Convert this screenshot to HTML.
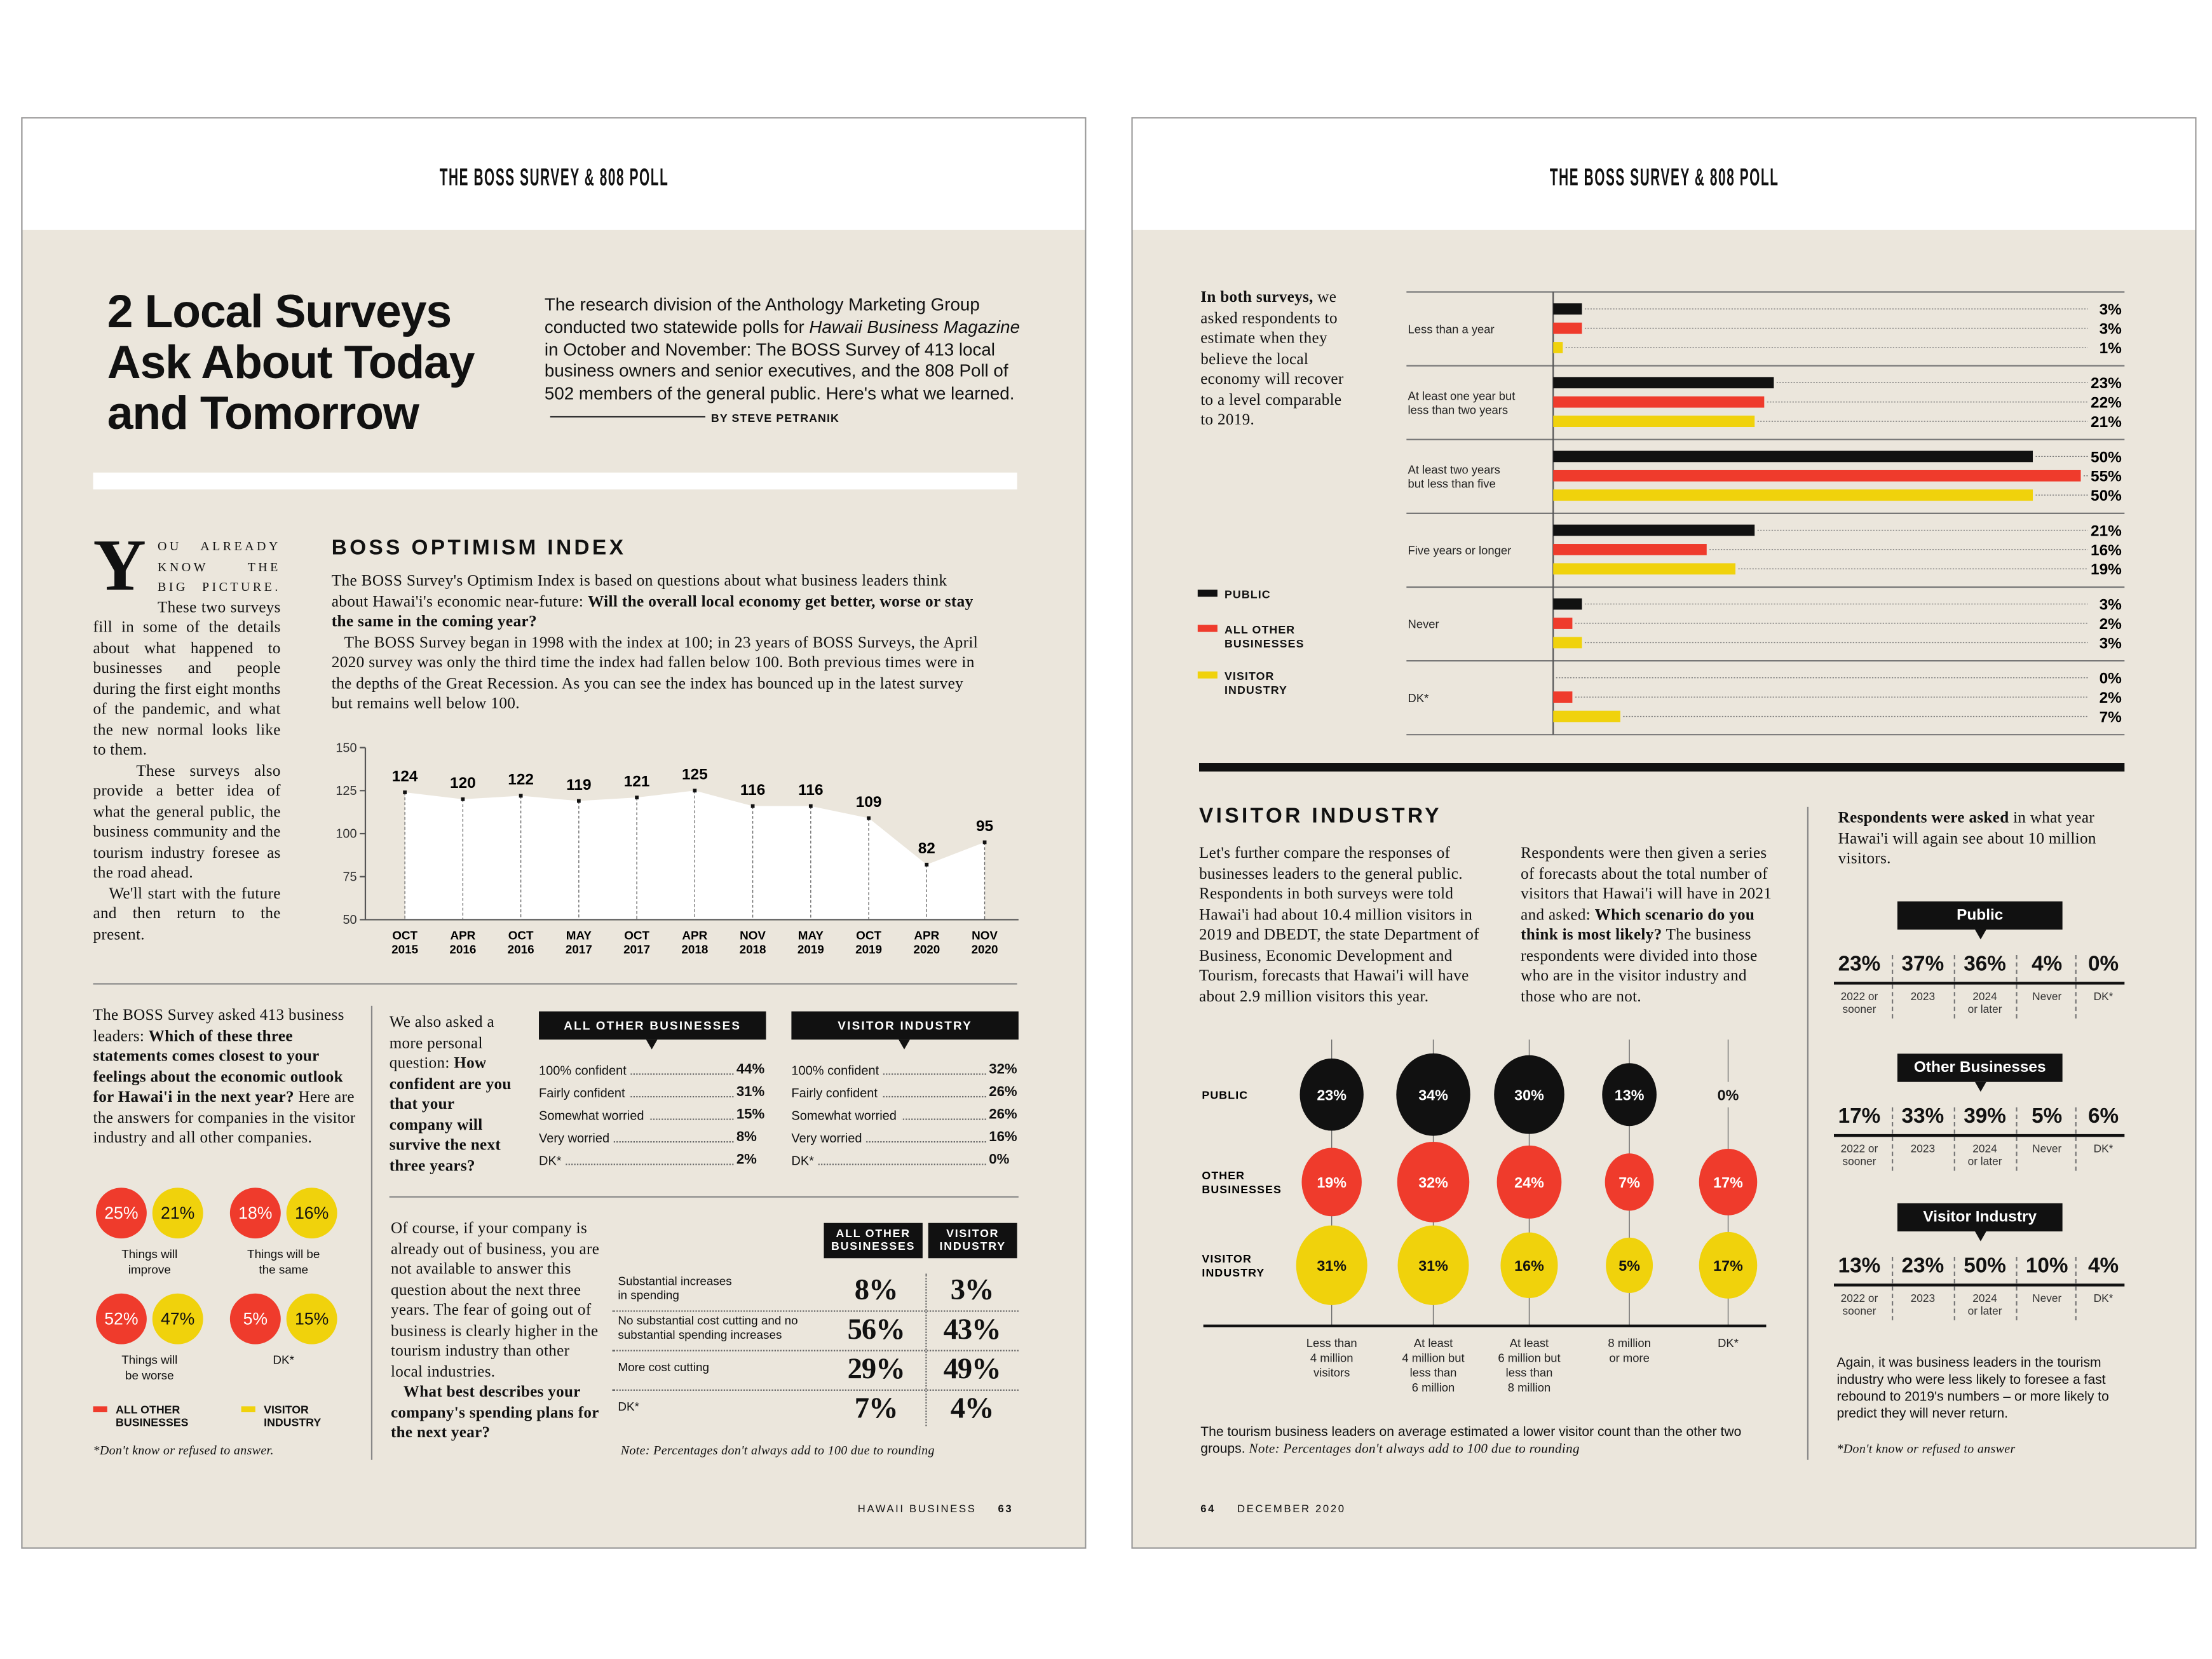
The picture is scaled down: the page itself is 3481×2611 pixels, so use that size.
<!DOCTYPE html>
<html><head><meta charset="utf-8">
<style>
html,body{margin:0;padding:0;background:#fff;}
body{width:3481px;height:2611px;overflow:hidden;position:relative;}
#wrap{position:absolute;left:0;top:0;width:1568px;height:1176px;transform:scale(2.22);transform-origin:0 0;font-family:"Liberation Sans",sans-serif;color:#111;}
.abs{position:absolute;}
.page{position:absolute;top:83px;width:755px;height:1015px;border:1px solid #999;background:#ebe6dc;box-sizing:border-box;}
.hdr{position:absolute;left:0;top:0;width:100%;height:79px;background:#fff;}
.hdrt{position:absolute;top:33px;width:100%;text-align:center;}
.hdrt span{display:inline-block;font-size:13px;letter-spacing:1px;transform:scale(0.72,1.3);font-weight:bold;}
.serif{font-family:"Liberation Serif",serif;letter-spacing:0.15px;}
.blk{background:#111;color:#fff;font-weight:bold;text-align:center;}
.tri{position:absolute;width:0;height:0;border-left:4px solid transparent;border-right:4px solid transparent;border-top:7px solid #111;}
.row{position:absolute;font-size:9px;width:160px;}
.row .lab{background:#ebe6dc;padding-right:3px;position:relative;z-index:1;}
.row .val{position:absolute;right:0;top:-1px;font-weight:bold;font-size:10px;background:#ebe6dc;}
.row .dots{position:absolute;left:0;right:22px;top:7px;border-top:1px dotted #666;}
</style></head><body>
<div id="wrap">
<div class="page" style="left:15px;">
 <div class="hdr"><div class="hdrt"><span>THE BOSS SURVEY &amp; 808 POLL</span></div></div>
</div>
<div class="page" style="left:802px;">
 <div class="hdr"><div class="hdrt"><span>THE BOSS SURVEY &amp; 808 POLL</span></div></div>
</div>

<div class="abs" style="left:76px;top:203px;font-size:33px;font-weight:bold;line-height:36px;letter-spacing:-0.5px;">2 Local Surveys<br>Ask About Today<br>and Tomorrow</div>
<div class="abs" style="left:386px;top:209px;width:338px;font-size:12.5px;line-height:15.8px;">The research division of the Anthology Marketing Group conducted two statewide polls for <i>Hawaii Business Magazine</i> in October and November: The BOSS Survey of 413 local business owners and senior executives, and the 808 Poll of 502 members of the general public. Here's what we learned. <span style="display:inline-block;width:110px;border-top:1px solid #333;vertical-align:middle;margin:0 4px;"></span><b style="font-size:8px;letter-spacing:.5px;">BY STEVE PETRANIK</b></div>
<div class="abs" style="left:66px;top:335px;width:655px;height:12px;background:#fff;"></div>

<div class="abs serif" style="left:66px;top:380px;width:133px;font-size:11.3px;line-height:14.5px;text-align:justify;">
<span style="float:left;font-size:52px;line-height:44px;font-weight:bold;margin:0 8px 0 0;">Y</span><span style="font-size:9px;letter-spacing:2px;">OU ALREADY KNOW THE BIG PICTURE.</span> These two surveys fill in some of the details about what happened to businesses and people during the first eight months of the pandemic, and what the new normal looks like to them.<br>&nbsp;&nbsp;&nbsp;These surveys also provide a better idea of what the general public, the business community and the tourism industry foresee as the road ahead.<br>&nbsp;&nbsp;&nbsp;We'll start with the future and then return to the present.</div>

<div class="abs" style="left:235px;top:380px;font-size:15px;font-weight:900;letter-spacing:2px;">BOSS OPTIMISM INDEX</div>
<div class="abs serif" style="left:235px;top:405px;width:462px;font-size:11.4px;line-height:14.5px;">The BOSS Survey's Optimism Index is based on questions about what business leaders think about Hawai'i's economic near-future: <b>Will the overall local economy get better, worse or stay the same in the coming year?</b><br>&nbsp;&nbsp;&nbsp;The BOSS Survey began in 1998 with the index at 100; in 23 years of BOSS Surveys, the April 2020 survey was only the third time the index had fallen below 100. Both previous times were in the depths of the Great Recession. As you can see the index has bounced up in the latest survey but remains well below 100.</div>

<svg id="lineChart" class="abs" style="left:225px;top:515px;" width="500" height="170"></svg>

<div class="abs" style="left:66px;top:697px;width:655px;border-top:1px solid #888;"></div>

<div class="abs serif" style="left:66px;top:713px;width:188px;font-size:11.3px;line-height:14.5px;">The BOSS Survey asked 413 business leaders: <b>Which of these three statements comes closest to your feelings about the economic outlook for Hawai'i in the next year?</b> Here are the answers for companies in the visitor industry and all other companies.</div>
<div id="pairCircles"></div>
<div class="abs" style="left:66px;top:995px;font-size:8px;font-weight:bold;line-height:9px;"><span style="display:inline-block;width:10px;height:4px;background:#ef3b2c;vertical-align:top;margin:2px 6px 0 0;"></span>ALL OTHER<br><span style="margin-left:16px;">BUSINESSES</span></div>
<div class="abs" style="left:171px;top:995px;font-size:8px;font-weight:bold;line-height:9px;"><span style="display:inline-block;width:10px;height:4px;background:#f0d20c;vertical-align:top;margin:2px 6px 0 0;"></span>VISITOR<br><span style="margin-left:16px;">INDUSTRY</span></div>
<div class="abs serif" style="left:66px;top:1023px;font-size:9px;font-style:italic;">*Don't know or refused to answer.</div>

<div class="abs" style="left:263px;top:713px;height:322px;border-left:1px solid #888;"></div>
<div class="abs serif" style="left:276px;top:718px;width:92px;font-size:11.3px;line-height:14.5px;">We also asked a more personal question: <b>How confident are you that your company will survive the next three years?</b></div>

<div class="abs blk" style="left:382px;top:717px;width:161px;height:20px;line-height:20px;font-size:8.5px;letter-spacing:1px;">ALL OTHER BUSINESSES</div><div class="tri" style="left:458px;top:737px;"></div>
<div class="abs blk" style="left:561px;top:717px;width:161px;height:20px;line-height:20px;font-size:8.5px;letter-spacing:1px;">VISITOR INDUSTRY</div><div class="tri" style="left:637px;top:737px;"></div>
<div id="confRows"></div>

<div class="abs" style="left:276px;top:848px;width:446px;border-top:1px solid #888;"></div>
<div class="abs serif" style="left:277px;top:864px;width:148px;font-size:11.3px;line-height:14.5px;">Of course, if your company is already out of business, you are not available to answer this question about the next three years. The fear of going out of business is clearly higher in the tourism industry than other local industries.<br>&nbsp;&nbsp;&nbsp;<b>What best describes your company's spending plans for the next year?</b></div>
<div class="abs blk" style="left:584px;top:867px;width:70px;height:25px;font-size:8px;line-height:9px;letter-spacing:.8px;padding-top:3px;box-sizing:border-box;">ALL OTHER<br>BUSINESSES</div>
<div class="abs blk" style="left:658px;top:867px;width:63px;height:25px;font-size:8px;line-height:9px;letter-spacing:.8px;padding-top:3px;box-sizing:border-box;">VISITOR<br>INDUSTRY</div>
<div id="spendTable"></div>
<div class="abs" style="left:656px;top:903px;height:108px;border-left:1px dotted #666;"></div>
<div class="abs serif" style="left:440px;top:1023px;font-size:9px;font-style:italic;">Note: Percentages don't always add to 100 due to rounding</div>
<div class="abs" style="left:608px;top:1065px;font-size:7.5px;letter-spacing:1.2px;">HAWAII BUSINESS <b style="margin-left:12px;">63</b></div>

<div class="abs serif" style="left:851px;top:204px;width:112px;font-size:11.3px;line-height:14.5px;"><b>In both surveys,</b> we asked respondents to estimate when they believe the local economy will recover to a level comparable to 2019.</div>
<svg id="barChart" class="abs" style="left:990px;top:200px;" width="520" height="325"></svg>
<div class="abs" style="left:849px;top:417px;font-size:8px;font-weight:bold;line-height:10px;letter-spacing:.5px;">
<div style="position:absolute;top:0;white-space:nowrap;"><span style="display:inline-block;width:14px;height:5px;background:#111;margin-right:5px;vertical-align:1px;"></span>PUBLIC</div>
<div style="position:absolute;top:25px;white-space:nowrap;"><span style="display:inline-block;width:14px;height:5px;background:#ef3b2c;margin-right:5px;vertical-align:1px;"></span>ALL OTHER<br><span style="margin-left:19px;">BUSINESSES</span></div>
<div style="position:absolute;top:58px;white-space:nowrap;"><span style="display:inline-block;width:14px;height:5px;background:#f0d20c;margin-right:5px;vertical-align:1px;"></span>VISITOR<br><span style="margin-left:19px;">INDUSTRY</span></div></div>

<div class="abs" style="left:850px;top:541px;width:656px;height:6px;background:#111;"></div>
<div class="abs" style="left:850px;top:570px;font-size:15px;font-weight:900;letter-spacing:2px;">VISITOR INDUSTRY</div>
<div class="abs serif" style="left:850px;top:598px;width:205px;font-size:11.3px;line-height:14.5px;">Let's further compare the responses of businesses leaders to the general public. Respondents in both surveys were told Hawai'i had about 10.4 million visitors in 2019 and DBEDT, the state Department of Business, Economic Development and Tourism, forecasts that Hawai'i will have about 2.9 million visitors this year.</div>
<div class="abs serif" style="left:1078px;top:598px;width:182px;font-size:11.3px;line-height:14.5px;">Respondents were then given a series of forecasts about the total number of visitors that Hawai'i will have in 2021 and asked: <b>Which scenario do you think is most likely?</b> The business respondents were divided into those who are in the visitor industry and those who are not.</div>
<svg id="bubbleChart" class="abs" style="left:845px;top:735px;" width="420" height="260"></svg>
<div class="abs" style="left:851px;top:1010px;width:400px;font-size:9.5px;line-height:11.5px;">The tourism business leaders on average estimated a lower visitor count than the other two groups. <i class="serif">Note: Percentages don't always add to 100 due to rounding</i></div>

<div class="abs" style="left:1281px;top:572px;height:463px;border-left:1px solid #888;"></div>
<div class="abs serif" style="left:1303px;top:573px;width:200px;font-size:11.3px;line-height:14.5px;"><b>Respondents were asked</b> in what year Hawai'i will again see about 10 million visitors.</div>
<div id="yearBlocks"></div>
<div class="abs" style="left:1302px;top:961px;width:215px;font-size:9.5px;line-height:12px;">Again, it was business leaders in the tourism industry who were less likely to foresee a fast rebound to 2019's numbers – or more likely to predict they will never return.</div>
<div class="abs serif" style="left:1302px;top:1022px;font-size:9px;font-style:italic;">*Don't know or refused to answer</div>
<div class="abs" style="left:851px;top:1065px;font-size:7.5px;letter-spacing:1.2px;"><b style="margin-right:12px;">64</b> DECEMBER 2020</div>
</div>

<script>
var indexDates = ["OCT|2015","APR|2016","OCT|2016","MAY|2017","OCT|2017","APR|2018","NOV|2018","MAY|2019","OCT|2019","APR|2020","NOV|2020"];
var indexValues = [124,120,122,119,121,125,116,116,109,82,95];
var indexTicks = [50,75,100,125,150];

var recoveryCats = ["Less than a year","At least one year but|less than two years","At least two years|but less than five","Five years or longer","Never","DK*"];
var publicVals = [3,23,50,21,3,0];
var otherVals = [3,22,55,16,2,2];
var visitorVals = [1,21,50,19,3,7];

var bubbleCats = ["Less than|4 million|visitors","At least|4 million but|less than|6 million","At least|6 million but|less than|8 million","8 million|or more","DK*"];
var bubblePublic = [23,34,30,13,0];
var bubbleOther = [19,32,24,7,17];
var bubbleVisitor = [31,31,16,5,17];

var yearLabels = ["2022 or|sooner","2023","2024|or later","Never","DK*"];
var yearPublic = [23,37,36,4,0];
var yearOther = [17,33,39,5,6];
var yearVisitor = [13,23,50,10,4];

var outlookLabels = ["Things will|improve","Things will be|the same","Things will|be worse","DK*"];
var outlookOther = [25,18,52,5];
var outlookVisitor = [21,16,47,15];

var confLabels = ["100% confident","Fairly confident","Somewhat worried","Very worried","DK*"];
var confOther = [44,31,15,8,2];
var confVisitor = [32,26,26,16,0];

var spendLabels = ["Substantial increases|in spending","No substantial cost cutting and no|substantial spending increases","More cost cutting","DK*"];
var spendOther = [8,56,29,7];
var spendVisitor = [3,43,49,4];

var NS="http://www.w3.org/2000/svg";
function mk(parent,tag,attrs,text){var e=document.createElementNS(NS,tag);for(var k in attrs)e.setAttribute(k,attrs[k]);if(text!==undefined)e.textContent=text;parent.appendChild(e);return e;}

(function(){
 var s=document.getElementById('lineChart');
 var x0=62,step=41.1,yTop=15,yBot=137;
 function X(i){return x0+i*step;}
 function Y(v){return yBot-(v-50)/100*(yBot-yTop);}
 var pts="";for(var i=0;i<indexValues.length;i++)pts+=X(i)+","+Y(indexValues[i])+" ";
 var area=mk(s,'polygon',{points:X(0)+","+yBot+" "+pts+X(indexValues.length-1)+","+yBot,fill:"#fff"});
 
 
 mk(s,'line',{x1:34,y1:yTop,x2:34,y2:yBot,stroke:"#555","stroke-width":1});
 mk(s,'line',{x1:34,y1:yBot,x2:497,y2:yBot,stroke:"#555","stroke-width":1});
 indexTicks.forEach(function(t){mk(s,'line',{x1:30,y1:Y(t),x2:34,y2:Y(t),stroke:"#555"});
  var tl=mk(s,'text',{x:28,y:Y(t)+3,"text-anchor":"end","font-size":9,fill:"#333"},t);
  
  });
 indexValues.forEach(function(v,i){
  mk(s,'line',{x1:X(i),y1:Y(v),x2:X(i),y2:yBot,stroke:"#666","stroke-dasharray":"2,1.5","stroke-width":0.6});
  var p=mk(s,'rect',{x:X(i)-1.3,y:Y(v)-1.3,width:2.6,height:2.6,fill:"#111"});
  
  
  var l=mk(s,'text',{x:X(i),y:Y(v)-8,"text-anchor":"middle","font-size":11,"font-weight":"bold"},v);
  
  
  var d=indexDates[i].split("|");
  var a=mk(s,'text',{x:X(i),y:yBot+14,"text-anchor":"middle","font-size":8.5,"font-weight":"bold"},d[0]);
  
  
  mk(s,'text',{x:X(i),y:yBot+24,"text-anchor":"middle","font-size":8.5,"font-weight":"bold"},d[1]);
 });
})();

(function(){
 var s=document.getElementById('barChart');
 var gTop=7,gH=52.3,ax=111,scale=6.8,right=514;
 var cols=["#111","#ef3b2c","#f0d20c"];var series=[publicVals,otherVals,visitorVals];
 for(var g=0;g<=recoveryCats.length;g++)mk(s,'line',{x1:7,y1:gTop+g*gH,x2:right+2,y2:gTop+g*gH,stroke:"#777","stroke-width":1});
 mk(s,'line',{x1:ax,y1:gTop,x2:ax,y2:gTop+6*gH,stroke:"#555","stroke-width":1});
 recoveryCats.forEach(function(c,g){
  var lines=c.split("|");var gy=gTop+g*gH;
  lines.forEach(function(t,k){var tx=mk(s,'text',{x:8,y:gy+gH/2+3-(lines.length-1)*5+k*10,"font-size":8.3,fill:"#222"},t);
   
   });
  for(var j=0;j<3;j++){
   var v=series[j][g];var by=gy+8+j*13.7;
   mk(s,'line',{x1:ax+v*scale+2,y1:by+4,x2:right-24,y2:by+4,stroke:"#777","stroke-dasharray":"1,1","stroke-width":0.6});
   var b=mk(s,'rect',{x:ax,y:by,width:v*scale,height:8,fill:cols[j]});
   
   
   var vt=mk(s,'text',{x:right,y:by+8,"text-anchor":"end","font-size":11,"font-weight":"bold"},v+"%");
   
   
  }
 });
})();

(function(){
 var s=document.getElementById('bubbleChart');
 var xs=[99,171,239,310,380];var ys=[41,103,162];var axisY=205;
 var rows=[bubblePublic,bubbleOther,bubbleVisitor];var cols=["#111","#ef3b2c","#f0d20c"];var tcol=["#fff","#fff","#111"];
 var rl=[["PUBLIC"],["OTHER","BUSINESSES"],["VISITOR","INDUSTRY"]];
 rl.forEach(function(l,r){l.forEach(function(t,k){var e=mk(s,'text',{x:7,y:ys[r]+3-(l.length-1)*5+k*10,"font-size":8,"font-weight":"bold","letter-spacing":0.5},t);
  
  });});
 xs.forEach(function(x){mk(s,'line',{x1:x,y1:2,x2:x,y2:axisY,stroke:"#666","stroke-width":0.6});});
 mk(s,'line',{x1:8,y1:axisY,x2:407,y2:axisY,stroke:"#111","stroke-width":2});
 rows.forEach(function(arr,r){arr.forEach(function(v,i){
  if(v>0){var c=mk(s,'ellipse',{cx:xs[i],cy:ys[r],rx:15+0.33*v,ry:15+0.33*v+3,fill:cols[r]});
   
   }
  else mk(s,'rect',{x:xs[i]-12,y:ys[r]-9,width:24,height:18,fill:"#ebe6dc"});
  var t=mk(s,'text',{x:xs[i],y:ys[r]+4,"text-anchor":"middle","font-size":10.5,"font-weight":"bold",fill:v>0?tcol[r]:"#111"},v+"%");
  
  
 });});
 bubbleCats.forEach(function(c,i){c.split("|").forEach(function(t,k){var e=mk(s,'text',{x:xs[i],y:axisY+15+k*10.5,"text-anchor":"middle","font-size":8.3,fill:"#222"},t);
  
  });});
})();

(function(){
 var host=document.getElementById('yearBlocks');
 var blocks=[["Public",yearPublic,639],["Other Businesses",yearOther,747],["Visitor Industry",yearVisitor,853]];
 var xs=[1318,1363,1407,1451,1491];
 blocks.forEach(function(b){
  var top=b[2];
  var box=document.createElement('div');
  
  
  box.className='abs blk';box.style.cssText='left:1345px;top:'+top+'px;width:117px;height:20px;line-height:20px;font-size:11px;';
  box.textContent=b[0];host.appendChild(box);
  var tr=document.createElement('div');tr.className='tri';tr.style.cssText='left:1400px;top:'+(top+20)+'px;';host.appendChild(tr);
  var ln=document.createElement('div');ln.className='abs';ln.style.cssText='left:1300px;top:'+(top+57)+'px;width:206px;border-top:2px solid #111;';host.appendChild(ln);
  b[1].forEach(function(v,i){
   var d=document.createElement('div');
   
   
   d.className='abs';d.style.cssText='left:'+(xs[i]-25)+'px;width:50px;text-align:center;top:'+(top+36)+'px;font-size:15px;font-weight:bold;';
   d.textContent=v+'%';host.appendChild(d);
   var l=document.createElement('div');l.className='abs';l.style.cssText='left:'+(xs[i]-25)+'px;width:50px;text-align:center;top:'+(top+63)+'px;font-size:7.8px;line-height:9px;color:#333;';
   l.innerHTML=yearLabels[i].replace('|','<br>');host.appendChild(l);
   if(i>0){var sp=document.createElement('div');sp.className='abs';sp.style.cssText='left:'+((xs[i]+xs[i-1])/2)+'px;top:'+(top+38)+'px;height:45px;border-left:1px dashed #777;';host.appendChild(sp);}
  });
 });
})();

(function(){
 var host=document.getElementById('pairCircles');
 var pos=[[86,860],[181,860],[86,935],[181,935]];
 outlookLabels.forEach(function(lab,i){
  var cx=pos[i][0],cy=pos[i][1];
  [[outlookOther[i],'#ef3b2c','#fff',0],[outlookVisitor[i],'#f0d20c','#111',40]].forEach(function(c){
   var d=document.createElement('div');
   
   
   d.className='abs';d.style.cssText='left:'+(cx+c[3]-18)+'px;top:'+(cy-18)+'px;width:36px;height:36px;border-radius:50%;background:'+c[1]+';color:'+c[2]+';text-align:center;line-height:36px;font-size:12px;';
   d.textContent=c[0]+'%';host.appendChild(d);
  });
  var l=document.createElement('div');l.className='abs';l.style.cssText='left:'+(cx-30)+'px;width:100px;text-align:center;top:'+(cy+24)+'px;font-size:8.5px;line-height:10.5px;';
  l.innerHTML=lab.replace('|','<br>');host.appendChild(l);
 });
})();

(function(){
 var host=document.getElementById('confRows');
 [[382,confOther],[561,confVisitor]].forEach(function(g){
  confLabels.forEach(function(lab,i){
   var r=document.createElement('div');
   
   
   r.className='row';r.style.left=g[0]+'px';r.style.top=(754+i*16)+'px';
   r.innerHTML='<div class="dots"></div><span class="lab">'+lab+'</span><span class="val" style="width:20px;">'+g[1][i]+'%</span>';
   host.appendChild(r);
  });
 });
})();

(function(){
 var host=document.getElementById('spendTable');
 var tops=[903,931,959,987];
 spendLabels.forEach(function(lab,i){
  var l=document.createElement('div');l.className='abs';l.style.cssText='left:438px;top:'+(tops[i]+(lab.indexOf('|')>0?0:5))+'px;font-size:8.5px;line-height:10px;';
  l.innerHTML=lab.replace('|','<br>');host.appendChild(l);
  [[621,spendOther[i]],[689,spendVisitor[i]]].forEach(function(c){
   var v=document.createElement('div');
   
   
   v.className='abs serif';v.style.cssText='left:'+(c[0]-35)+'px;width:70px;text-align:center;top:'+(tops[i]-1)+'px;font-size:21px;font-weight:bold;letter-spacing:-0.5px;';
   v.textContent=c[1]+'%';host.appendChild(v);
  });
  if(i<3){var ln=document.createElement('div');ln.className='abs';ln.style.cssText='left:434px;top:'+(tops[i]+26)+'px;width:288px;border-top:1px dotted #666;';host.appendChild(ln);}
 });
})();
</script>
</body></html>
